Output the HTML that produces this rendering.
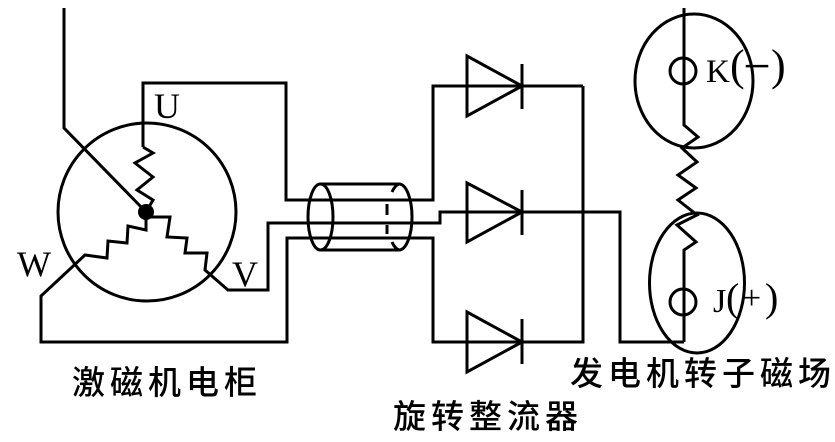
<!DOCTYPE html>
<html>
<head>
<meta charset="utf-8">
<style>
  html, body { margin:0; padding:0; background:#fff; }
  svg { display:block; }
  .lat { font-family: "Liberation Serif", serif; fill:#000; }
  .cjk { font-family: "Liberation Sans", "Noto Sans CJK SC", sans-serif; fill:#000; font-size:33px; font-weight:500; }
</style>
</head>
<body>
<svg width="835" height="442" viewBox="0 0 835 442" xmlns="http://www.w3.org/2000/svg">
  <g fill="none" stroke="#000" stroke-width="3" stroke-linejoin="miter">
    <!-- exciter circle -->
    <circle cx="147" cy="212" r="89"/>
    <!-- top-left lead -->
    <path d="M64,8 V128 L146,212"/>
    <!-- U phase -->
    <path d="M143,147 V83 H286 V200 H433 V86 H583"/>
    <path d="M143,147 L153,153 L135,163 L153,177 L137,190 L153,200 L146,212"/>
    <!-- V phase -->
    <path d="M146,217 H170 L167,237 L187,238 L185,253 L207,253 L205,270 L228,290 H268 V223 H440 V212 H620 V342 H684"/>
    <!-- W phase -->
    <path d="M146,212 V230 L128,226 L127,243 L108,241 L107,258 L85,255 L41,296 V342 H287 V238 H433 V342 H583 V86"/>
    <!-- cylinder (slip ring) -->
    <ellipse cx="320.5" cy="217" rx="12.5" ry="33"/>
    <path d="M320,184 H399 M320,250 H399"/>
    <path d="M399,184 A13,33 0 0 1 399,250"/>
    <path d="M399,184 A13,33 0 0 0 392,192" />
    <path d="M399,250 A13,33 0 0 1 392,242" />
    <path d="M387,204 V215 M387,225 V234"/>
    <!-- diodes -->
    <polygon points="467,56 522,86 467,116"/>
    <path d="M522,64 V109"/>
    <polygon points="467,183 522,212 467,242"/>
    <path d="M522,190 V235"/>
    <polygon points="467,312 522,342 467,372"/>
    <path d="M522,319 V364"/>
    <!-- rotor field -->
    <ellipse cx="694" cy="81" rx="59" ry="67"/>
    <ellipse cx="697" cy="283" rx="47.5" ry="70"/>
    <path d="M684,8 V125 L698,137 L682,148 L697,162 L678,175 L696,188 L678,200 L697,215 L677,225 L696,242 L684,250 V342"/>
    <circle cx="683" cy="71" r="13"/>
    <circle cx="683" cy="302" r="13"/>
  </g>
  <circle cx="146" cy="212" r="8" fill="#000"/>

  <!-- phase labels -->
  <text class="lat" x="154" y="118" font-size="36">U</text>
  <text class="lat" x="17" y="276" font-size="36">W</text>
  <text class="lat" x="232" y="286" font-size="36">V</text>

  <!-- K(−) -->
  <text class="lat" x="706" y="82" font-size="33">K</text>
  <text class="lat" x="730" y="80" font-size="44">(</text>
  <text class="lat" x="744" y="77" font-size="33" stroke="#000" stroke-width="0.8" textLength="26" lengthAdjust="spacingAndGlyphs">−</text>
  <text class="lat" x="771" y="80" font-size="44">)</text>

  <!-- J(+) -->
  <text class="lat" x="713" y="312" font-size="34">J</text>
  <text class="lat" x="726" y="311" font-size="40">(</text>
  <text class="lat" x="742" y="309" font-size="34">+</text>
  <text class="lat" x="765" y="311" font-size="40">)</text>

  <!-- Chinese captions -->
  <text class="cjk" y="394"><tspan x="72">激</tspan><tspan x="110">磁</tspan><tspan x="148">机</tspan><tspan x="186">电</tspan><tspan x="224">柜</tspan></text>
  <text class="cjk" y="385"><tspan x="570">发</tspan><tspan x="608">电</tspan><tspan x="646">机</tspan><tspan x="684">转</tspan><tspan x="722">子</tspan><tspan x="760">磁</tspan><tspan x="798">场</tspan></text>
  <text class="cjk" y="428"><tspan x="393">旋</tspan><tspan x="431">转</tspan><tspan x="469">整</tspan><tspan x="507">流</tspan><tspan x="545">器</tspan></text>
</svg>
</body>
</html>
